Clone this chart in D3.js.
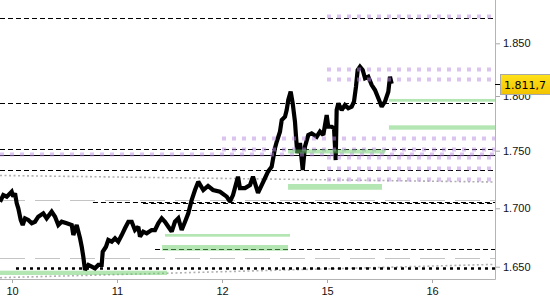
<!DOCTYPE html>
<html>
<head>
<meta charset="utf-8">
<script src="https://cdn.jsdelivr.net/npm/d3@7"></script>
<style>
  body { margin: 0; background: #fff; }
  svg { display: block; }
</style>
</head>
<body>
<svg id="chart"></svg>
<script>
// trading days on the x axis (weekend skipped)
const days = ["10", "11", "12", "15", "16"];
const yTicks = [1650, 1700, 1750, 1800, 1850];
const lastPrice = 1811.7;

// price path: t = trading-day index, v = price
const priceT = [
  -0.114, -0.083, -0.050, -0.003, 0.012, 0.029, 0.045, 0.060, 0.083, 0.102,
  0.124, 0.155, 0.188, 0.219, 0.250, 0.298, 0.330, 0.378, 0.410, 0.441,
  0.473, 0.521, 0.569, 0.584, 0.616, 0.648, 0.664, 0.679, 0.695, 0.727,
  0.759, 0.790, 0.822, 0.854, 0.864, 0.895, 0.917, 0.950, 0.981, 1.012,
  1.045, 1.076, 1.108, 1.140, 1.171, 1.203, 1.219, 1.250, 1.283, 1.330,
  1.362, 1.393, 1.426, 1.457, 1.489, 1.521, 1.552, 1.584, 1.616, 1.648,
  1.679, 1.711, 1.743, 1.774, 1.822, 1.867, 1.914, 1.981, 2.045, 2.076,
  2.105, 2.152, 2.171, 2.219, 2.267, 2.295, 2.343, 2.378, 2.410, 2.438,
  2.473, 2.505, 2.521, 2.552, 2.569, 2.600, 2.616, 2.631, 2.654, 2.673,
  2.695, 2.705, 2.717, 2.743, 2.769, 2.790, 2.822, 2.854, 2.902, 2.933,
  2.965, 2.997, 3.012, 3.045, 3.067, 3.083, 3.092, 3.108, 3.140, 3.171,
  3.203, 3.235, 3.257, 3.276, 3.292, 3.314, 3.340, 3.362, 3.393, 3.426,
  3.457, 3.489, 3.521, 3.552, 3.584, 3.600, 3.616
];
const priceV = [
  1705.7, 1711.5, 1710.1, 1714.4, 1710.1, 1713.0, 1704.3, 1700.0, 1690.0, 1685.7,
  1691.4, 1690.0, 1687.2, 1688.5, 1692.8, 1695.7, 1691.4, 1697.1, 1692.8, 1685.7,
  1688.5, 1687.2, 1685.7, 1677.1, 1685.7, 1674.3, 1667.1, 1658.6, 1647.2, 1651.5,
  1650.0, 1648.6, 1651.5, 1651.5, 1662.8, 1667.1, 1672.9, 1671.4, 1674.3, 1671.4,
  1677.1, 1682.9, 1688.5, 1688.5, 1681.4, 1684.2, 1675.7, 1680.0, 1678.6, 1681.4,
  1681.4, 1687.2, 1691.4, 1688.5, 1684.2, 1680.0, 1688.5, 1691.4, 1681.4, 1688.5,
  1695.7, 1707.2, 1715.9, 1723.1, 1715.9, 1719.4, 1715.9, 1714.4, 1710.1, 1705.7,
  1711.5, 1727.4, 1717.6, 1717.6, 1720.2, 1727.4, 1713.3, 1720.2, 1726.3, 1731.8,
  1736.1, 1752.5, 1758.2, 1767.4, 1778.1, 1781.1, 1787.2, 1796.3, 1804.1, 1793.6,
  1776.5, 1762.8, 1748.0, 1757.0, 1733.2, 1753.7, 1764.4, 1765.9, 1762.8, 1767.4,
  1764.4, 1782.6, 1771.9, 1771.9, 1770.5, 1741.9, 1787.2, 1793.3, 1787.2, 1791.8,
  1788.8, 1790.2, 1794.8, 1808.8, 1824.7, 1827.8, 1824.7, 1816.8, 1818.3, 1810.4,
  1805.7, 1797.9, 1790.2, 1794.8, 1804.1, 1818.3, 1811.7
];

// horizontal levels: [value, start day] (null = from left edge), all run to the right edge
const dashedLevels = [[1873.7, null], [1793.3, null], [1751.3, null], [1733.2, null],
  [1705.9, 0.771], [1704.3, 1.248], [1698.3, 1.41], [1664.9, 1.362]];
const solidLevels = [[1746.0, null]];
const dottedLevels = [[1648.6, 0.038]];
const purpleLevels = [[1876.2, 3], [1825.6, 3], [1816.1, 3], [1761.9, 2], [1751.3, 2],
  [1747.1, null], [1744.3, 3], [1734.7, 3], [1725.2, 3]];
const greyDashLevels = [[1707.2, null], [1657.2, null]];
// sloped trendlines: [t0, v0, t1, v1]
const trendLines = [[-0.114, 1728.5, 4.6, 1722.8], [-0.114, 1640.6, 4.6, 1652.0]];
// zones: [from, to, low, high] (null = plot edge)
const greenZones = [[3.59, null, 1794.8, 1797.3], [3.59, null, 1769.2, 1773.2],
  [2.629, 3.552, 1747.6, 1751.1], [2.629, 3.524, 1716.1, 1721.1],
  [1.457, 2.648, 1675.7, 1678.0], [1.429, 2.629, 1663.7, 1668.6],
  [null, 1.476, 1642.9, 1646.6]];

const width = 550, height = 300;
const plotR = 495, plotB = 279;

const svg = d3.select("#chart").attr("width", width).attr("height", height)
    .style("font-family", "'DejaVu Sans', Verdana, sans-serif");

const x = d3.scaleLinear().domain([0, 4]).range([12, 432]);
const y = d3.scaleLinear().domain([1650, 1700, 1750, 1800, 1850]).range([266.7, 208.3, 150.7, 96, 43.3]);
const locale = d3.formatLocale({ decimal: ",", thousands: ".", grouping: [3], currency: ["", ""] });
const fmtTick = locale.format(",.0f");
const fmtLast = locale.format(",.1f");

svg.append("defs").append("clipPath").attr("id", "plot")
    .append("rect").attr("width", plotR).attr("height", plotB);

const canvas = svg.append("g").attr("clip-path", "url(#plot)");
const left = d => d == null ? 0 : x(d);
const right = d => d == null ? plotR : x(d);

const hline = (g, data, stroke, sw, dash, opacity) => g.append("g")
    .selectAll("line").data(data).join("line")
    .attr("x1", d => left(d[1])).attr("x2", plotR)
    .attr("y1", d => Math.round(y(d[0])) + 0.5).attr("y2", d => Math.round(y(d[0])) + 0.5)
    .attr("stroke", stroke).attr("stroke-width", sw)
    .attr("stroke-dasharray", dash).attr("stroke-opacity", opacity || 1);

hline(canvas, greyDashLevels, "#c4c4c4", 1, "25,10");
canvas.append("g").selectAll("line").data(trendLines).join("line")
    .attr("x1", d => x(d[0])).attr("y1", d => y(d[1]))
    .attr("x2", d => x(d[2])).attr("y2", d => y(d[3]))
    .attr("stroke", "#b0b0b0").attr("stroke-width", 1.6).attr("stroke-dasharray", "2,2.5");
hline(canvas, dashedLevels, "#000", 1, "5,3");
hline(canvas, solidLevels, "#000", 1, null);
hline(canvas, dottedLevels, "#000", 2.5, "3,4");

// price
const line = d3.line().x(d => x(d[0])).y(d => y(d[1]));
canvas.append("path")
    .datum(priceT.map((t, i) => [t, priceV[i]]))
    .attr("d", line)
    .attr("fill", "none").attr("stroke", "#000")
    .attr("stroke-width", 4.2).attr("stroke-linejoin", "miter").attr("stroke-miterlimit", 2);

// zones drawn over the price, semi transparent
hline(canvas, purpleLevels, "#b989e1", 4, "4,6", 0.5);
canvas.append("g").selectAll("rect").data(greenZones).join("rect")
    .attr("x", d => left(d[0])).attr("width", d => right(d[1]) - left(d[0]))
    .attr("y", d => y(d[3])).attr("height", d => y(d[2]) - y(d[3]))
    .attr("fill", "#67cd67").attr("fill-opacity", 0.5);

// axes
const yAxis = svg.append("g").attr("transform", `translate(${plotR},0)`)
    .call(d3.axisRight(y).tickValues(yTicks).tickSize(5).tickPadding(3).tickFormat(fmtTick));
const xAxis = svg.append("g").attr("transform", `translate(0,${plotB})`)
    .call(d3.axisBottom(x).tickValues(d3.range(days.length)).tickSize(4).tickPadding(4).tickFormat(i => days[i]));
[yAxis, xAxis].forEach(a => {
    a.select(".domain").remove();
    a.selectAll(".tick line").attr("stroke", "#a8a8a8");
    a.selectAll("text").attr("fill", "#111").style("font-size", "11px");
});
svg.append("line").attr("x1", plotR + 0.5).attr("x2", plotR + 0.5).attr("y1", 0).attr("y2", plotB + 0.5)
    .attr("stroke", "#b4b4b4");
svg.append("line").attr("x1", 0).attr("x2", plotR + 0.5).attr("y1", plotB + 0.5).attr("y2", plotB + 0.5)
    .attr("stroke", "#b4b4b4");

// last price label
const grad = svg.select("defs").append("linearGradient").attr("id", "gold")
    .attr("x1", 0).attr("y1", 0).attr("x2", 0).attr("y2", 1);
grad.append("stop").attr("offset", "0%").attr("stop-color", "#ffe21a");
grad.append("stop").attr("offset", "100%").attr("stop-color", "#f2c200");
const ly = y(lastPrice);
svg.append("line").attr("x1", plotR).attr("x2", plotR + 7)
    .attr("y1", Math.round(ly) + 0.5).attr("y2", Math.round(ly) + 0.5).attr("stroke", "#000");
svg.append("rect").attr("x", 500.5).attr("y", Math.round(ly) - 9.5).attr("width", 60).attr("height", 20)
    .attr("fill", "url(#gold)").attr("stroke", "#a8a8a8");
svg.append("text").attr("x", 504).attr("y", Math.round(ly) + 4.5)
    .style("font-size", "11px").attr("fill", "#000").text(fmtLast(lastPrice));
</script>
</body>
</html>
